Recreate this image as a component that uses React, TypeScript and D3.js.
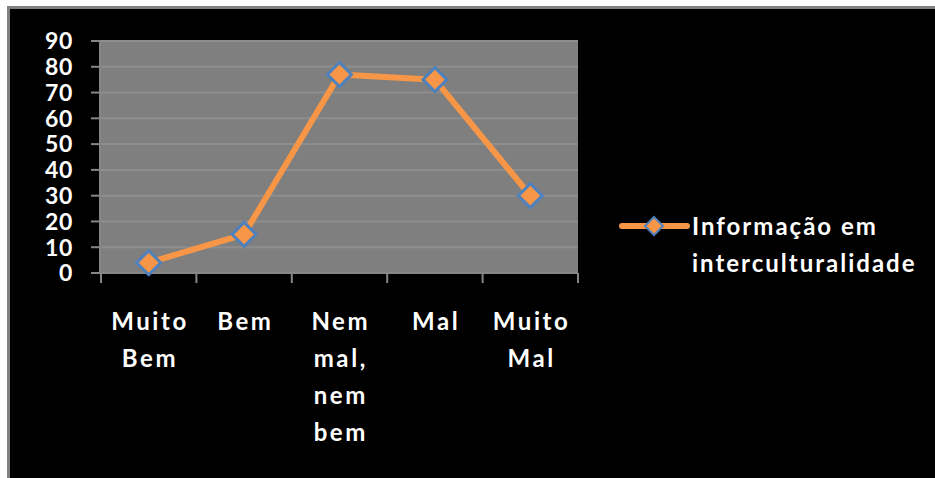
import React from "react";
import * as d3 from "d3";

const categories = ["Muito Bem", "Bem", "Nem mal, nem bem", "Mal", "Muito Mal"];
const categoryLines = [["Muito", "Bem"], ["Bem"], ["Nem", "mal,", "nem", "bem"], ["Mal"], ["Muito", "Mal"]];
const values = [4, 15, 77, 75, 30];
const yTicks = [0, 10, 20, 30, 40, 50, 60, 70, 80, 90];
const seriesName = ["Informação em", "interculturalidade"];

const W = 935;
const H = 478;
const plot = { left: 101, right: 578, top: 41, bottom: 273 };
const FONT = "Lato, 'Open Sans', sans-serif";
const ORANGE = "#f79646";
const BLUE = "#4f81bd";

const diamond = (cx: number, cy: number, r: number) =>
  `M${cx},${cy - r}L${cx + r},${cy}L${cx},${cy + r}L${cx - r},${cy}Z`;

export default function App() {
  const x = d3.scaleBand<string>().domain(categories).range([plot.left, plot.right]);
  const y = d3.scaleLinear().domain([0, 90]).range([plot.bottom, plot.top]);
  const cx = (c: string) => (x(c) ?? 0) + x.bandwidth() / 2;

  const line = d3
    .line<number>()
    .x((_, i) => cx(categories[i]))
    .y((d) => y(d));

  const tickXs = [...categories.map((c) => x(c) ?? 0), plot.right];
  const labelSpacing = 2.6;

  return (
    <svg
      width={W}
      height={H}
      style={{ position: "absolute", left: 0, top: 0, display: "block" }}
    >
      <rect x={0} y={0} width={W} height={H} fill="#ffffff" />
      <rect x={8.5} y={7.5} width={W + 10} height={H + 10} fill="#000000" stroke="#808080" strokeWidth={3} />

      {/* plot area */}
      <rect x={plot.left} y={plot.top} width={plot.right - plot.left} height={plot.bottom - plot.top} fill="#7f7f7f" />
      {yTicks.filter((t) => t > 0).map((t) => (
        <line key={t} x1={plot.left} x2={plot.right} y1={y(t)} y2={y(t)} stroke="#8e8e8e" strokeWidth={2} />
      ))}

      {/* y axis */}
      <line x1={plot.left - 1} x2={plot.left - 1} y1={plot.top} y2={plot.bottom} stroke="#868686" strokeWidth={2} />
      {yTicks.map((t) => (
        <g key={t}>
          <line x1={plot.left - 10} x2={plot.left} y1={y(t)} y2={y(t)} stroke="#868686" strokeWidth={2} />
          <text
            x={73}
            y={y(t)}
            dy="0.36em"
            textAnchor="end"
            fill="#ffffff"
            fontFamily={FONT}
            fontWeight={700}
            fontSize={23}
            letterSpacing={0.6}
          >
            {t}
          </text>
        </g>
      ))}

      {/* x axis */}
      <line x1={plot.left - 1} x2={plot.right} y1={plot.bottom} y2={plot.bottom} stroke="#868686" strokeWidth={2} />
      {tickXs.map((tx, i) => (
        <line key={i} x1={tx} x2={tx} y1={plot.bottom} y2={plot.bottom + 10} stroke="#868686" strokeWidth={2} />
      ))}
      {categories.map((c, i) => (
        <text
          key={c}
          textAnchor="middle"
          fill="#ffffff"
          fontFamily={FONT}
          fontWeight={700}
          fontSize={24}
          letterSpacing={labelSpacing}
        >
          {categoryLines[i].map((ln, j) => (
            <tspan key={j} x={cx(c) + labelSpacing / 2} y={330 + j * 37}>
              {ln}
            </tspan>
          ))}
        </text>
      ))}

      {/* series */}
      <path d={line(values) ?? ""} fill="none" stroke={ORANGE} strokeWidth={6} strokeLinejoin="round" />
      {values.map((v, i) => (
        <path
          key={i}
          d={diamond(cx(categories[i]), y(v), 12)}
          fill={ORANGE}
          stroke={BLUE}
          strokeWidth={3}
        />
      ))}

      {/* legend */}
      <line x1={622} x2={687} y1={226} y2={226} stroke={ORANGE} strokeWidth={6} strokeLinecap="round" />
      <path d={diamond(654, 226, 9)} fill={ORANGE} stroke={BLUE} strokeWidth={2} />
      <text fill="#ffffff" fontFamily={FONT} fontWeight={700} fontSize={24} letterSpacing={2}>
        {seriesName.map((s, j) => (
          <tspan key={j} x={692} y={235 + j * 37}>
            {s}
          </tspan>
        ))}
      </text>
    </svg>
  );
}
